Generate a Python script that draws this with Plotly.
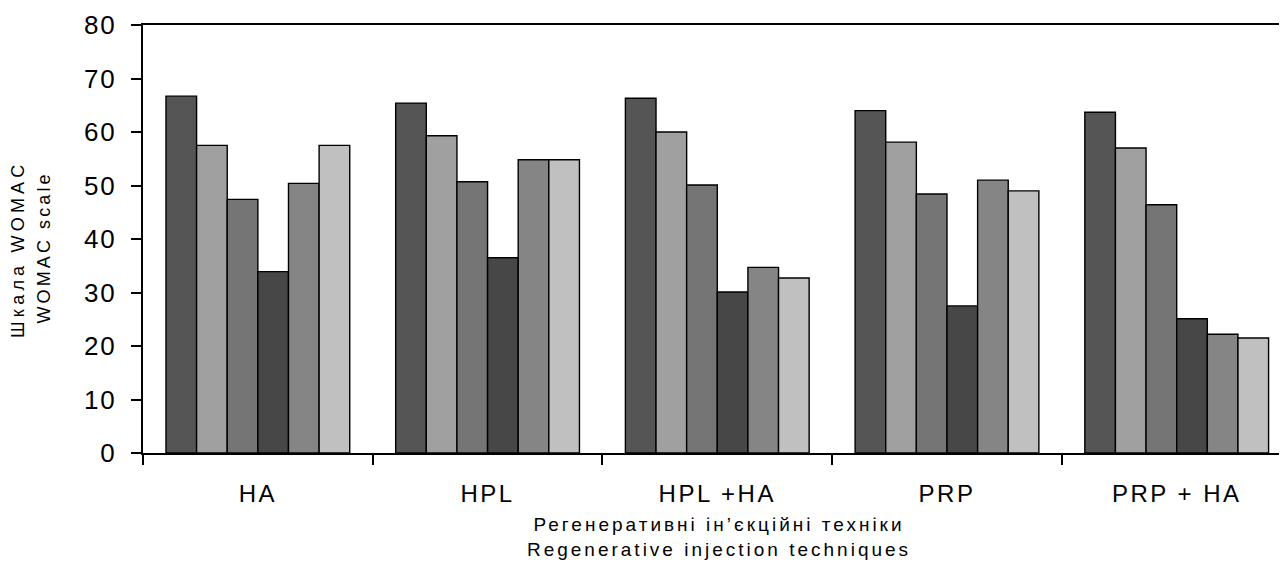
import plotly.graph_objects as go

categories = ["HA", "HPL", "HPL +HA", "PRP", "PRP + HA"]

series_names = ["Серія 1", "Серія 2", "Серія 3", "Серія 4", "Серія 5", "Серія 6"]
s1 = [66.7, 65.4, 66.3, 64.0, 63.7]
s2 = [57.5, 59.3, 60.0, 58.1, 57.0]
s3 = [47.4, 50.7, 50.1, 48.4, 46.4]
s4 = [33.9, 36.5, 30.1, 27.5, 25.1]
s5 = [50.4, 54.8, 34.7, 51.0, 22.2]
s6 = [57.5, 54.8, 32.7, 49.0, 21.5]
series_values = [s1, s2, s3, s4, s5, s6]
colors = ["#555555", "#a0a0a0", "#757575", "#474747", "#858585", "#c0c0c0"]

y_ticks = [0, 10, 20, 30, 40, 50, 60, 70, 80]

x_title_lines = ["Регенеративні ін’єкційні техніки", "Regenerative injection techniques"]
y_title_lines = ["Шкала WOMAC", "WOMAC scale"]


def spaced(text, px):
    return '<span style="letter-spacing:%spx">%s</span>' % (px, text)


W, H = 1287, 569
ML, MT, MB, MR = 135, 17, 124, 0
plot_w = W - ML - MR
plot_h = H - MT - MB


def paper_x(px):
    return (px - ML) / plot_w


def paper_y(py):
    return 1 - (py - MT) / plot_h


fig = go.Figure()
for name, vals, col in zip(series_names, series_values, colors):
    fig.add_trace(go.Bar(
        x=categories, y=vals, name=name,
        marker=dict(color=col, line=dict(color="#000000", width=1.4)),
        showlegend=False,
    ))

font_family = "Liberation Sans, Arial, sans-serif"

fig.update_layout(
    width=W, height=H,
    margin=dict(l=ML, r=MR, t=MT, b=MB),
    barmode="group", bargap=0.2, bargroupgap=0,
    plot_bgcolor="white", paper_bgcolor="white",
    font=dict(family=font_family, color="#000000"),
    xaxis=dict(
        range=[-0.5, 4.515], automargin=False,
        tickmode="array", tickvals=categories,
        ticktext=[spaced(c, 2.5) for c in categories],
        showline=True, linecolor="#000000", linewidth=2, mirror=True,
        ticks="outside", tickson="boundaries", ticklen=10, tickwidth=1.5, tickcolor="#000000",
        tickfont=dict(size=24, family=font_family),
        ticklabelstandoff=18,
        showgrid=False, zeroline=False,
        title=dict(text="<br>".join(spaced(t, 3.0) for t in x_title_lines),
                   font=dict(size=19, family=font_family), standoff=12),
    ),
    yaxis=dict(
        range=[0, 80], automargin=False,
        tickmode="array", tickvals=y_ticks,
        ticktext=[spaced(str(v), 2) for v in y_ticks],
        showline=True, linecolor="#000000", linewidth=2,
        ticks="outside", ticklen=10, tickwidth=1.5, tickcolor="#000000",
        tickfont=dict(size=26, family=font_family),
        ticklabelstandoff=9,
        showgrid=False, zeroline=False,
    ),
    annotations=[
        dict(text=spaced(y_title_lines[0], 4.2), textangle=-90,
             xref="paper", yref="paper", x=paper_x(9.5), y=paper_y(241.5),
             xanchor="center", yanchor="middle", showarrow=False,
             font=dict(size=18, family=font_family, color="#000000")),
        dict(text=spaced(y_title_lines[1], 3.1), textangle=-90,
             xref="paper", yref="paper", x=paper_x(36), y=paper_y(239.5),
             xanchor="center", yanchor="middle", showarrow=False,
             font=dict(size=18, family=font_family, color="#000000")),
    ],
)

fig.write_html("out.html")
